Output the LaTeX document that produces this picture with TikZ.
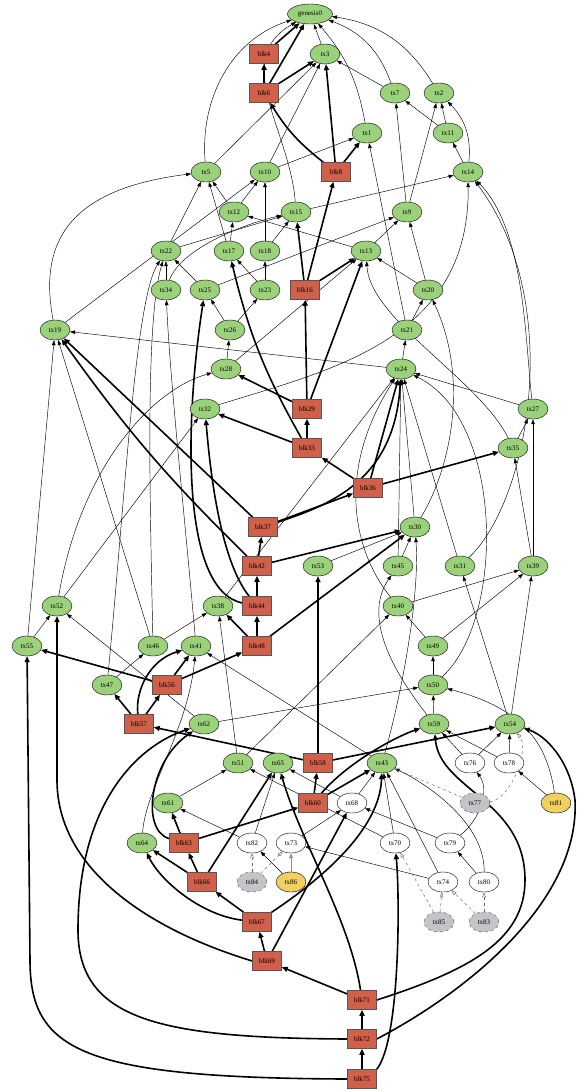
\documentclass[tikz,border=0pt]{standalone}
\usepackage{fontspec}
\setmainfont{Liberation Serif}
\usetikzlibrary{shapes.geometric,arrows.meta}
\definecolor{txgreen}{HTML}{9BD17A}
\definecolor{blkred}{HTML}{D0604A}
\definecolor{blkborder}{HTML}{555555}
\definecolor{orphgray}{HTML}{C2C4C8}
\definecolor{txyellow}{HTML}{F0D060}
\pgfdeclarelayer{edges}
\pgfsetlayers{edges,main}
\tikzset{
 txn/.style={ellipse, draw=black, line width=0.4pt, fill=txgreen, minimum width=30pt, minimum height=20pt, inner sep=0pt, font=\fontsize{7}{8}\selectfont},
 blkn/.style={rectangle, draw=blkborder, line width=0.5pt, fill=blkred, minimum width=29pt, minimum height=19pt, inner sep=0pt, font=\fontsize{7}{8}\selectfont},
 mpn/.style={txn, fill=white},
 orn/.style={txn, fill=orphgray, dashed, draw=black!70},
 yln/.style={txn, fill=txyellow},
 e/.style={-{Triangle[length=5pt,width=3.6pt]}, line width=0.45pt},
 be/.style={-{Triangle[length=6pt,width=5pt]}, line width=1.6pt},
 de/.style={-{Triangle[open,length=5pt,width=3.6pt]}, dashed, line width=0.45pt, draw=black!60},
 ge/.style={-{Triangle[length=5pt,width=3.6pt]}, line width=0.9pt, draw=black!45},
}
\begin{document}
\begin{tikzpicture}[x=1pt,y=-1pt]
\useasboundingbox (0,0) rectangle (585,1092);
% nodes
\node[txn, minimum width=45pt] (genesis0) at (310,14) {genesis0};
\node[blkn] (blk4) at (264,54) {blk4};
\node[txn] (tx3) at (325,54) {tx3};
\node[blkn] (blk6) at (264,93) {blk6};
\node[txn] (tx7) at (395,93) {tx7};
\node[txn] (tx2) at (439,93) {tx2};
\node[txn] (tx1) at (367,133) {tx1};
\node[txn] (tx11) at (448,133) {tx11};
\node[blkn] (blk8) at (336,172) {blk8};
\node[txn] (tx5) at (206,172) {tx5};
\node[txn] (tx10) at (265,172) {tx10};
\node[txn] (tx14) at (468,172) {tx14};
\node[txn] (tx12) at (234,212) {tx12};
\node[txn] (tx15) at (296,212) {tx15};
\node[txn] (tx9) at (407,212) {tx9};
\node[txn] (tx22) at (166,251) {tx22};
\node[txn] (tx17) at (229,251) {tx17};
\node[txn] (tx18) at (265,251) {tx18};
\node[txn] (tx13) at (366,251) {tx13};
\node[txn] (tx34) at (166,290) {tx34};
\node[txn] (tx25) at (205,290) {tx25};
\node[txn] (tx23) at (265,290) {tx23};
\node[blkn] (blk16) at (305,290) {blk16};
\node[txn] (tx20) at (428,290) {tx20};
\node[txn] (tx19) at (55,330) {tx19};
\node[txn] (tx26) at (230,330) {tx26};
\node[txn] (tx21) at (407,330) {tx21};
\node[txn] (tx28) at (226,369) {tx28};
\node[txn] (tx24) at (401,369) {tx24};
\node[blkn] (blk29) at (307,409) {blk29};
\node[txn] (tx32) at (205,409) {tx32};
\node[txn] (tx27) at (533,409) {tx27};
\node[blkn] (blk33) at (307,448) {blk33};
\node[txn] (tx35) at (513,448) {tx35};
\node[blkn] (blk36) at (368,488) {blk36};
\node[blkn] (blk37) at (263,527) {blk37};
\node[txn] (tx30) at (415,527) {tx30};
\node[blkn] (blk42) at (257,566) {blk42};
\node[txn] (tx53) at (318,566) {tx53};
\node[txn] (tx45) at (398,566) {tx45};
\node[txn] (tx31) at (460,566) {tx31};
\node[txn] (tx39) at (533,566) {tx39};
\node[txn] (tx52) at (57,606) {tx52};
\node[txn] (tx38) at (218,606) {tx38};
\node[blkn] (blk44) at (257,606) {blk44};
\node[txn] (tx40) at (398,606) {tx40};
\node[txn] (tx55) at (27,646) {tx55};
\node[txn] (tx46) at (153,646) {tx46};
\node[txn] (tx41) at (196,646) {tx41};
\node[blkn] (blk48) at (257,646) {blk48};
\node[txn] (tx49) at (433,646) {tx49};
\node[txn] (tx47) at (107,685) {tx47};
\node[blkn] (blk56) at (167,685) {blk56};
\node[txn] (tx50) at (433,685) {tx50};
\node[blkn] (blk57) at (139,724) {blk57};
\node[txn] (tx62) at (204,724) {tx62};
\node[txn] (tx59) at (434,724) {tx59};
\node[txn] (tx54) at (510,724) {tx54};
\node[txn] (tx51) at (238,763) {tx51};
\node[txn] (tx65) at (278,763) {tx65};
\node[blkn] (blk58) at (318,763) {blk58};
\node[txn] (tx43) at (382,763) {tx43};
\node[mpn] (tx76) at (470,763) {tx76};
\node[mpn] (tx78) at (509,763) {tx78};
\node[txn] (tx61) at (168,803) {tx61};
\node[blkn] (blk60) at (313,803) {blk60};
\node[mpn] (tx68) at (352,803) {tx68};
\node[orn] (tx77) at (475,803) {tx77};
\node[yln] (tx81) at (556,803) {tx81};
\node[txn] (tx64) at (142,843) {tx64};
\node[blkn] (blk63) at (184,843) {blk63};
\node[mpn] (tx82) at (252,843) {tx82};
\node[mpn] (tx73) at (291,843) {tx73};
\node[mpn] (tx70) at (395,843) {tx70};
\node[mpn] (tx79) at (450,843) {tx79};
\node[blkn] (blk66) at (202,882) {blk66};
\node[orn] (tx84) at (252,882) {tx84};
\node[yln] (tx86) at (291,882) {tx86};
\node[mpn] (tx74) at (443,882) {tx74};
\node[mpn] (tx80) at (484,882) {tx80};
\node[blkn] (blk67) at (257,922) {blk67};
\node[orn] (tx85) at (439,922) {tx85};
\node[orn] (tx83) at (484,922) {tx83};
\node[blkn] (blk69) at (267,961) {blk69};
\node[blkn] (blk71) at (362,1000) {blk71};
\node[blkn] (blk72) at (362,1039) {blk72};
\node[blkn] (blk75) at (362,1079) {blk75};
\begin{pgfonlayer}{edges}
% thick block edges
\draw[be] (blk4) -- (genesis0);
\draw[be] (blk6) -- (blk4);
\draw[be] (blk6) -- (genesis0);
\draw[be] (blk6) -- (tx3);
\draw[be] (blk8) to[bend left=10] (blk6);
\draw[be] (blk8) -- (tx3);
\draw[be] (blk8) -- (tx1);
\draw[be] (blk16) -- (blk8);
\draw[be] (blk16) -- (tx15);
\draw[be] (blk16) -- (tx13);
\draw[be] (blk29) -- (blk16);
\draw[be] (blk29) -- (tx13);
\draw[be] (blk29) -- (tx28);
\draw[be] (blk33) -- (blk29);
\draw[be] (blk33) -- (tx32);
\draw[be] (blk33) to[bend left=8] (tx17);
\draw[be] (blk36) -- (blk33);
\draw[be] (blk36) -- (tx24);
\draw[be] (blk36) -- (tx35);
\draw[be] (blk37) -- (blk36);
\draw[be] (blk37) .. controls (330,505) and (395,480) .. (tx24);
\draw[be] (blk37) -- (tx19);
\draw[be] (blk42) -- (blk37);
\draw[be] (blk42) -- (tx30);
\draw[be] (blk42) to[bend left=5] (tx19);
\draw[be] (blk44) -- (blk42);
\draw[be] (blk44) .. controls (220,560) and (210,470) .. (tx32);
\draw[be] (blk44) .. controls (180,590) and (185,420) .. (tx25);
\draw[be] (blk48) -- (blk44);
\draw[be] (blk48) -- (tx38);
\draw[be] (blk48) -- (tx30);
\draw[be] (blk56) -- (blk48);
\draw[be] (blk56) -- (tx41);
\draw[be] (blk56) -- (tx55);
\draw[be] (blk57) -- (blk56);
\draw[be] (blk57) -- (tx47);
\draw[be] (blk57) .. controls (135,690) and (150,660) .. (tx41);
\draw[be] (blk58) -- (blk57);
\draw[be] (blk58) -- (tx53);
\draw[be] (blk58) -- (tx54);
\draw[be] (blk60) -- (blk58);
\draw[be] (blk60) -- (tx43);
\draw[be] (blk60) .. controls (350,760) and (400,735) .. (tx59);
\draw[be] (blk63) -- (blk60);
\draw[be] (blk63) -- (tx61);
\draw[be] (blk63) .. controls (140,830) and (150,760) .. (tx62);
\draw[be] (blk66) -- (blk63);
\draw[be] (blk66) -- (tx64);
\draw[be] (blk66) -- (tx65);
\draw[be] (blk67) -- (blk66);
\draw[be] (blk67) .. controls (200,915) and (160,880) .. (tx64);
\draw[be] (blk67) .. controls (320,880) and (380,830) .. (tx43);
\draw[be] (blk69) -- (blk67);
\draw[be] (blk69) -- (tx68);
\draw[be] (blk69.west) .. controls (150,930) and (57,870) .. (57,780) -- (tx52);
\draw[be] (blk71) -- (blk69);
\draw[be] (blk71.east) .. controls (470,970) and (525,940) .. (525,880) .. controls (525,800) and (440,790) .. (tx59);
\draw[be] (blk71) .. controls (350,920) and (300,840) .. (tx65);
\draw[be] (blk72) -- (blk71);
\draw[be] (blk72.east) .. controls (470,990) and (580,900) .. (575,800) .. controls (570,760) and (545,735) .. (tx54);
\draw[be] (blk72.west) .. controls (160,1038) and (78,1020) .. (78,930) .. controls (78,800) and (140,745) .. (tx62);
\draw[be] (blk75) -- (blk72);
\draw[be] (blk75.north east) .. controls (400,1040) and (400,900) .. (tx70);
\draw[be] (blk75.west) .. controls (80,1078) and (30,1050) .. (30,960) -- (tx55);
% thin tx edges
\draw[e] (tx3) -- (genesis0);
\draw[e] (tx5) .. controls (200,100) and (230,40) .. (genesis0);
\draw[e] (tx5) -- (tx3);
\draw[e] (tx7) to[bend right=25] (genesis0);
\draw[e] (tx7) -- (tx3);
\draw[e] (tx2) to[bend right=25] (genesis0);
\draw[e] (tx1) to[bend right=15] (genesis0);
\draw[e] (tx10) -- (tx3);
\draw[e] (tx10) -- (tx1);
\draw[e] (tx11) -- (tx7);
\draw[e] (tx11) -- (tx2);
\draw[e] (tx14) -- (tx11);
\draw[e] (tx14) to[bend right=25] (tx2);
\draw[e] (tx12) -- (tx5);
\draw[e] (tx12) -- (tx10);
\draw[e] (tx15) -- (tx14);
\draw[e] (tx15) .. controls (290,130) and (230,60) .. (genesis0);
\draw[e] (tx9) -- (tx7);
\draw[e] (tx9) -- (tx2);
\draw[e] (tx22) -- (tx5);
\draw[e] (tx22) -- (tx15);
\draw[e] (tx17) -- (tx5);
\draw[e] (tx17) -- (tx12);
\draw[e] (tx18) -- (tx10);
\draw[e] (tx18) -- (tx15);
\draw[e] (tx13) -- (tx9);
\draw[e] (tx13) -- (tx12);
\draw[e] (tx34) -- (tx22);
\draw[e] (tx34) .. controls (180,250) and (240,225) .. (tx15);
\draw[e] (tx25) -- (tx22);
\draw[e] (tx25) -- (tx9);
\draw[e] (tx23) -- (tx17);
\draw[e] (tx23) -- (tx18);
\draw[e] (tx20) -- (tx13);
\draw[e] (tx20) -- (tx9);
\draw[e] (tx19) .. controls (40,250) and (60,190) .. (tx5);
\draw[e] (tx19) -- (tx10);
\draw[e] (tx26) -- (tx25);
\draw[e] (tx26) -- (tx23);
\draw[e] (tx21) -- (tx20);
\draw[e] (tx21) -- (tx1);
\draw[e] (tx28) -- (tx26);
\draw[e] (tx28) -- (tx13);
\draw[e] (tx24) -- (tx21);
\draw[e] (tx24) -- (tx19);
\draw[e] (tx27) -- (tx24);
\draw[e] (tx27) .. controls (525,340) and (525,230) .. (tx14);
\draw[e] (tx32) .. controls (330,370) and (470,340) .. (tx14);
\draw[e] (tx35) -- (tx27);
\draw[e] (tx35) .. controls (480,380) and (370,320) .. (tx13);
\draw[e] (tx30) -- (tx24);
\draw[e] (tx30) .. controls (450,470) and (470,380) .. (tx20);
\draw[e] (tx53) -- (tx30);
\draw[e] (tx31) .. controls (530,500) and (565,300) .. (tx14);
\draw[e] (tx31) -- (tx24);
\draw[e] (tx39) -- (tx27);
\draw[e] (tx39) -- (tx35);
\draw[e] (tx45) -- (tx24);
\draw[e] (tx45) -- (tx30);
\draw[e] (tx40) -- (tx39);
\draw[e] (tx40) .. controls (360,560) and (330,480) .. (tx24);
\draw[e] (tx38) -- (tx24);
\draw[e] (tx52) -- (tx32);
\draw[e] (tx52) .. controls (80,470) and (150,390) .. (tx28);
\draw[e] (tx55) -- (tx52);
\draw[e] (tx55) -- (tx19);
\draw[e] (tx46) -- (tx38);
\draw[e] (tx46) -- (tx19);
\draw[e] (tx46) .. controls (150,500) and (145,320) .. (tx22);
\draw[e] (tx41) .. controls (185,520) and (170,380) .. (tx34);
\draw[e] (tx49) -- (tx40);
\draw[e] (tx49) -- (tx39);
\draw[e] (tx47) -- (tx46);
\draw[e] (tx47) .. controls (125,500) and (135,300) .. (tx22);
\draw[e] (tx50) -- (tx49);
\draw[e] (tx50) .. controls (505,620) and (505,420) .. (tx24);
\draw[e] (tx59) -- (tx50);
\draw[e] (tx59) .. controls (400,680) and (360,620) .. (tx45);
\draw[e] (tx54) -- (tx31);
\draw[e] (tx54) -- (tx39);
\draw[e] (tx62) -- (tx50);
\draw[e] (tx62) -- (tx52);
\draw[e] (tx51) -- (tx40);
\draw[e] (tx51) -- (tx38);
\draw[e] (tx43) -- (tx41);
\draw[e] (tx43) .. controls (400,700) and (420,600) .. (tx30);
\draw[e] (tx61) -- (tx51);
\draw[e] (tx64) .. controls (145,790) and (188,730) .. (tx41);
\draw[e] (tx76) -- (tx54);
\draw[e] (tx76) -- (tx59);
\draw[e] (tx78) -- (tx54);
\draw[e] (tx78) -- (tx59);
\draw[e] (tx81) -- (tx78);
\draw[e] (tx81) .. controls (548,750) and (530,710) .. (tx50);
\draw[e] (tx68) -- (tx43);
\draw[e] (tx68) -- (tx65);
\draw[e] (tx73) -- (tx68);
\draw[e] (tx70) -- (tx51);
\draw[e] (tx82) -- (tx65);
\draw[e] (tx82) -- (tx61);
\draw[e] (tx70) -- (tx43);
\draw[e] (tx79) .. controls (480,820) and (490,790) .. (tx76);
\draw[e] (tx79) -- (tx68);
\draw[e] (tx74) -- (tx43);
\draw[e] (tx74) -- (tx73);
\draw[e] (tx80) -- (tx79);
\draw[e] (tx80) .. controls (485,820) and (420,780) .. (tx43);
\draw[ge] (tx86) -- (tx73);
\draw[e] (tx86) -- (tx82);
\draw[de] (tx77) -- (tx43);
\draw[de] (tx77) .. controls (510,800) and (530,750) .. (tx54);
\draw[de] (tx84) -- (tx82);
\draw[de] (tx84) -- (tx73);
\draw[de] (tx85) -- (tx74);
\draw[de] (tx85) -- (tx70);
\draw[de] (tx83) -- (tx74);
\draw[de] (tx83) -- (tx80);
\end{pgfonlayer}
\end{tikzpicture}
\end{document}
